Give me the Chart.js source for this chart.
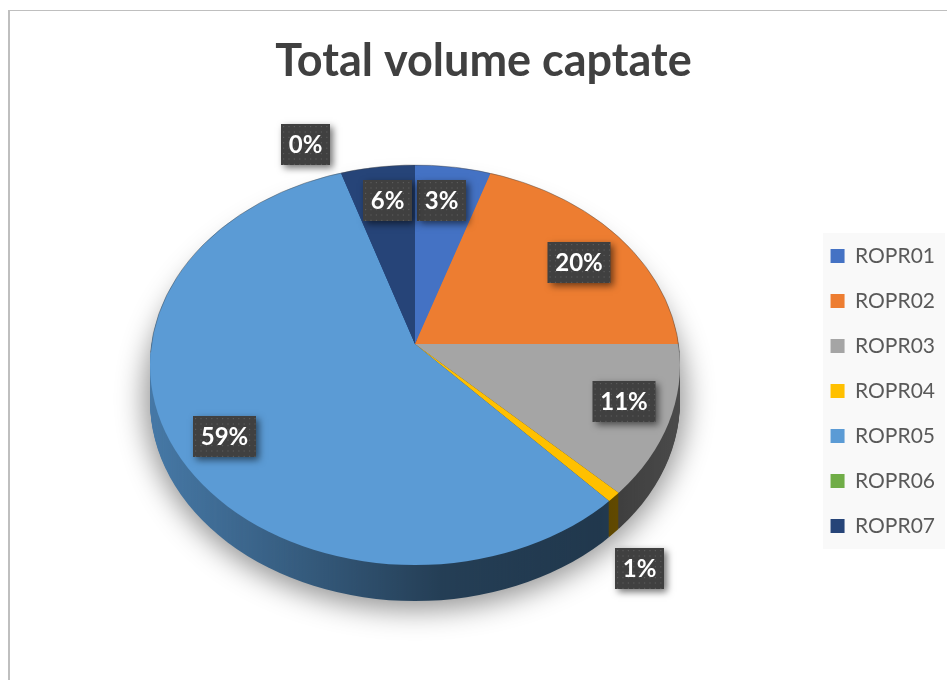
<!DOCTYPE html>
<html>
<head>
<meta charset="utf-8">
<title>Total volume captate</title>
<script src="https://cdn.jsdelivr.net/npm/chart.js@4"></script>
<style>
  html, body { margin: 0; padding: 0; background: #fff; overflow: hidden; }
  #frame {
    position: absolute; left: 8px; top: 10px; right: 0; bottom: 0;
    border-left: 2px solid #bfbfbf; border-top: 1px solid #bfbfbf;
  }
  #summaryChart { position: absolute; left: 0; top: 0; }
</style>
</head>
<body>
<div id="frame"></div>
<canvas id="summaryChart" width="947" height="680"></canvas>
<script>
const categories = ['ROPR01', 'ROPR02', 'ROPR03', 'ROPR04', 'ROPR05', 'ROPR06', 'ROPR07'];
// slice sizes as they appear in the picture (%)
const sliceShares = [5.1, 19.9, 12.3, 0.8, 56.9, 0, 5.0];
// percentages as printed on the data labels
const printedPercents = [3, 20, 11, 1, 59, 0, 6];
const sliceColors = ['#4472c4', '#ed7d31', '#a5a5a5', '#ffc000', '#5b9bd5', '#70ad47', '#264478'];

// where the label boxes sit, same order as categories
const labelCenters = [[441.5, 200.5], [579, 262.5], [624, 401.5], [639.5, 568.5], [224.5, 436.5], [305.5, 144.5], [387.5, 200.5]];

// tilted disc: outline ellipse, and the apex where the slices meet
const disc = { x: 415, y: 365, rx: 265, ry: 200, depth: 36 };
const apex = { x: 415, y: 344, reach: 320, tilt: 0.75 };

function discPath(ctx, dy) {
  ctx.beginPath();
  ctx.ellipse(disc.x, disc.y + dy, disc.rx, disc.ry, 0, 0, Math.PI * 2);
}

function tiltTransform(ctx, arc, dy) {
  const s = apex.reach / arc.outerRadius;
  ctx.translate(apex.x, apex.y + dy);
  ctx.scale(s, s * apex.tilt);
  ctx.translate(-arc.x, -arc.y);
}

const discPlugin = {
  id: 'disc',
  beforeDraw(chart) {
    // legend panel
    const ctx = chart.ctx;
    const lg = chart.legend;
    ctx.save();
    ctx.fillStyle = '#f9f9f9';
    ctx.fillRect(823, 233, lg.right - 823, 316);
    ctx.restore();
  },
  beforeDatasetsDraw(chart) {
    const ctx = chart.ctx;
    const arcs = chart.getDatasetMeta(0).data;

    // side wall, one layer per pixel of depth
    for (let d = disc.depth; d > 0; d--) {
      ctx.save();
      discPath(ctx, d);
      ctx.clip();
      tiltTransform(ctx, arcs[0], d);
      arcs.forEach(a => a.draw(ctx));
      ctx.restore();
    }

    // darken the wall, lit from the left
    ctx.save();
    ctx.globalCompositeOperation = 'source-atop';
    const g = ctx.createLinearGradient(disc.x - disc.rx, 0, disc.x + disc.rx, 0);
    g.addColorStop(0, 'rgba(0,0,0,0.22)');
    g.addColorStop(0.3, 'rgba(0,0,0,0.42)');
    g.addColorStop(0.55, 'rgba(0,0,0,0.6)');
    g.addColorStop(0.85, 'rgba(0,0,0,0.64)');
    g.addColorStop(1, 'rgba(0,0,0,0.55)');
    ctx.fillStyle = g;
    ctx.fillRect(140, 340, 550, 280);
    ctx.restore();

    // soft shadow under the disc, the ellipse itself stays off canvas
    ctx.save();
    ctx.globalCompositeOperation = 'destination-over';
    ctx.shadowColor = 'rgba(0,0,0,0.42)';
    ctx.shadowBlur = 28;
    ctx.shadowOffsetX = 2000;
    ctx.fillStyle = '#000';
    ctx.beginPath();
    ctx.ellipse(disc.x - 2000, disc.y + 34, disc.rx + 6, disc.ry + 11, 0, 0, Math.PI * 2);
    ctx.fill();
    ctx.restore();

    // top surface is drawn by the library inside this transform
    ctx.save();
    discPath(ctx, 0);
    ctx.clip();
    tiltTransform(ctx, arcs[0], 0);
  },
  afterDatasetsDraw(chart) {
    const ctx = chart.ctx;
    ctx.restore();

    // thin rim along the back of the disc
    ctx.save();
    ctx.strokeStyle = 'rgba(70,70,70,0.55)';
    ctx.lineWidth = 0.8;
    ctx.beginPath();
    ctx.ellipse(disc.x, disc.y, disc.rx, disc.ry, 0, Math.PI * 1.02, Math.PI * 1.98);
    ctx.stroke();
    ctx.restore();

    printedPercents.forEach((pct, i) => drawLabel(ctx, labelCenters[i], pct));
  }
};

function drawLabel(ctx, center, pct) {
  const w = pct >= 10 ? 63 : 49;
  const h = 41;
  const x = center[0] - w / 2;
  const y = center[1] - h / 2;

  ctx.save();
  ctx.shadowColor = 'rgba(0,0,0,0.55)';
  ctx.shadowBlur = 7;
  ctx.shadowOffsetX = 3;
  ctx.shadowOffsetY = 3;
  ctx.fillStyle = '#404040';
  ctx.fillRect(x, y, w, h);
  ctx.restore();

  // dotted texture
  ctx.save();
  ctx.fillStyle = 'rgba(255,255,255,0.14)';
  for (let px = x + 2; px < x + w - 1; px += 5.4) {
    for (let py = y + 2; py < y + h - 1; py += 5.4) {
      ctx.fillRect(px, py, 1.2, 1.2);
    }
  }
  ctx.fillStyle = '#ffffff';
  ctx.font = 'bold 24px Lato';
  ctx.textAlign = 'center';
  ctx.textBaseline = 'middle';
  ctx.fillText(pct + '%', center[0], center[1] + 1);
  ctx.restore();
}

const chart = new Chart(document.getElementById('summaryChart').getContext('2d'), {
  type: 'pie',
  data: {
    labels: categories,
    datasets: [{
      data: sliceShares,
      backgroundColor: sliceColors,
      borderWidth: 0,
      clip: false
    }]
  },
  options: {
    responsive: false,
    animation: false,
    events: [],
    layout: { padding: { left: 22, right: 2, top: 0, bottom: 0 } },
    plugins: {
      tooltip: { enabled: false },
      title: {
        display: true,
        text: 'Total volume captate',
        color: '#404040',
        font: { family: 'Lato', size: 45, weight: 'bold' },
        padding: { top: 34, bottom: 14 }
      },
      legend: {
        position: 'right',
        fullSize: false,
        labels: {
          color: '#595959',
          font: { family: 'Lato', size: 21 },
          boxWidth: 14,
          boxHeight: 14,
          padding: 24
        }
      }
    }
  },
  plugins: [discPlugin]
});
</script>
</body>
</html>
